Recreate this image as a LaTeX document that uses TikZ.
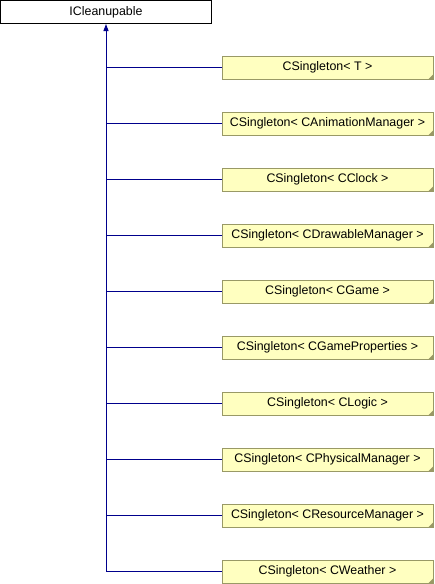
\documentclass[tikz,border=0pt]{standalone}
\usepackage{fontspec}
\setmainfont{Liberation Sans}
\usetikzlibrary{arrows.meta,calc}
\definecolor{boxfill}{RGB}{255,255,192}
\definecolor{boxline}{RGB}{153,153,102}
\definecolor{edgecol}{RGB}{0,0,140}
\begin{document}
\begin{tikzpicture}[x=1pt,y=-1pt,
  base/.style={draw=black,line width=1pt,fill=white,minimum width=211pt,minimum height=23pt,inner sep=0pt,font=\fontsize{12.4}{14}\selectfont},
  cls/.style={draw=boxline,line width=1pt,fill=boxfill,minimum width=211pt,minimum height=23pt,inner sep=0pt,font=\fontsize{12.4}{14}\selectfont},
  edge/.style={draw=edgecol,line width=1pt},
  inh/.style={edge,-{Triangle[length=7pt,width=5pt]}}]
\useasboundingbox (0,0) rectangle (434,584);
\node[base] (top) at (106,12) {ICleanupable};
\foreach \i/\t in {1/{CSingleton< T >},2/{CSingleton< CAnimationManager >},3/{CSingleton< CClock >},4/{CSingleton< CDrawableManager >},5/{CSingleton< CGame >},6/{CSingleton< CGameProperties >},7/{CSingleton< CLogic >},8/{CSingleton< CPhysicalManager >},9/{CSingleton< CResourceManager >},10/{CSingleton< CWeather >}}{
  \node[cls] (b\i) at (327.5,{11.5+56*\i}) {\t};
  \fill[boxline] ($(b\i.south east)+(-5.5,0)$) -- ($(b\i.south east)+(0,-5.5)$) -- (b\i.south east) -- cycle;
  \draw[edge] (b\i.west) -- (b\i.west -| top.south);
}
\draw[inh] (b10.west -| top.south) -- (top.south);
\end{tikzpicture}
\end{document}
